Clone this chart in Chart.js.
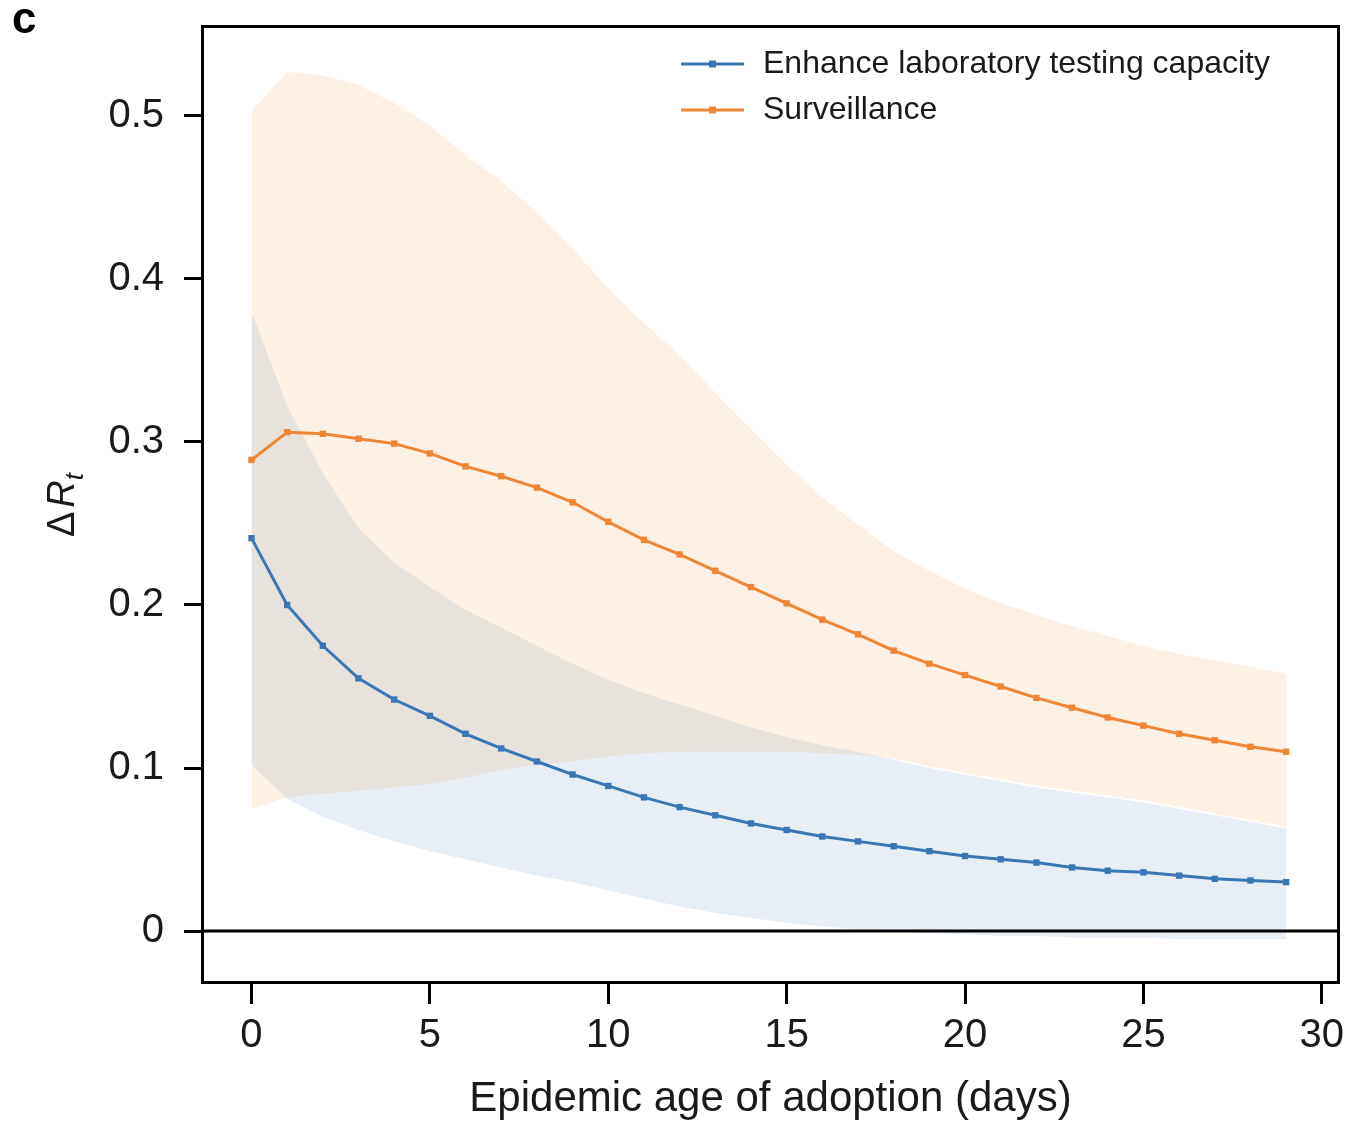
<!DOCTYPE html>
<html>
<head>
<meta charset="utf-8">
<script src="https://cdn.jsdelivr.net/npm/chart.js@4.4.1/dist/chart.umd.min.js"></script>
<style>
  html, body { margin: 0; padding: 0; background: #fff; }
  #wrap { width: 1347px; height: 1127px; position: relative; }
</style>
</head>
<body>
<div id="wrap"><canvas id="deltaChart" width="1347" height="1127"></canvas></div>
<script>
// data (panel c)
const days = [0,1,2,3,4,5,6,7,8,9,10,11,12,13,14,15,16,17,18,19,20,21,22,23,24,25,26,27,28,29];

const labMean = [0.241,0.200,0.175,0.155,0.142,0.132,0.121,0.112,0.104,0.096,0.089,0.082,0.076,0.071,0.066,0.062,0.058,0.055,0.052,0.049,0.046,0.044,0.042,0.039,0.037,0.036,0.034,0.032,0.031,0.030];
const labUpper = [0.380,0.322,0.281,0.247,0.226,0.211,0.197,0.186,0.175,0.164,0.154,0.146,0.139,0.132,0.125,0.119,0.114,0.110,0.105,0.100,0.096,0.092,0.088,0.085,0.082,0.079,0.075,0.071,0.067,0.063];
const labLower = [0.102,0.081,0.070,0.062,0.055,0.049,0.044,0.039,0.034,0.030,0.025,0.020,0.015,0.011,0.008,0.005,0.003,0.001,0.000,-0.001,-0.002,-0.003,-0.003,-0.004,-0.004,-0.004,-0.005,-0.005,-0.005,-0.005];

const survMean = [0.289,0.306,0.305,0.302,0.299,0.293,0.285,0.279,0.272,0.263,0.251,0.240,0.231,0.221,0.211,0.201,0.191,0.182,0.172,0.164,0.157,0.150,0.143,0.137,0.131,0.126,0.121,0.117,0.113,0.110];
const survUpper = [0.503,0.527,0.525,0.519,0.508,0.494,0.476,0.460,0.441,0.419,0.394,0.373,0.353,0.330,0.308,0.286,0.266,0.249,0.233,0.221,0.210,0.201,0.194,0.187,0.181,0.175,0.170,0.166,0.162,0.158];
const survLower = [0.075,0.082,0.084,0.086,0.088,0.090,0.094,0.099,0.102,0.104,0.107,0.109,0.110,0.110,0.110,0.110,0.109,0.108,0.106,0.101,0.097,0.093,0.089,0.086,0.083,0.080,0.076,0.072,0.068,0.064];

const seriesNames = ['Enhance laboratory testing capacity', 'Surveillance'];
const xTicks = [0, 5, 10, 15, 20, 25, 30];
const yTicks = [0, 0.1, 0.2, 0.3, 0.4, 0.5];

const BLUE = '#3a76b4';
const ORANGE = '#ef8636';
const FONT = '"Liberation Sans", Arial, Helvetica, sans-serif';

const pts = arr => days.map((d, i) => ({ x: d, y: arr[i] }));

function lineSet(label, arr, color) {
  return {
    label: label,
    data: pts(arr),
    borderColor: color,
    backgroundColor: color,
    borderWidth: 3,
    pointStyle: 'rect',
    pointRadius: 4.5,
    pointBorderWidth: 0,
    tension: 0,
    fill: false
  };
}

function bandSet(arr, fillColor, fillTo) {
  return {
    label: '',
    data: pts(arr),
    borderWidth: 0,
    borderColor: 'rgba(0,0,0,0)',
    backgroundColor: fillColor,
    pointRadius: 0,
    tension: 0,
    fill: fillTo
  };
}

// scales should not push the plot box around
function noPad(scale) {
  scale.paddingTop = 0;
  scale.paddingBottom = 0;
  scale.paddingLeft = 0;
  scale.paddingRight = 0;
}

// box, zero line, legend, y title, panel letter
const decorations = {
  id: 'decorations',
  afterDatasetsDraw(chart) {
    const ctx = chart.ctx;
    const a = chart.chartArea;
    const y0 = chart.scales.y.getPixelForValue(0);
    ctx.save();
    ctx.strokeStyle = '#000';
    ctx.lineWidth = 3;
    ctx.beginPath();
    ctx.moveTo(a.left, y0);
    ctx.lineTo(a.right, y0);
    ctx.stroke();
    ctx.strokeRect(a.left + 1.5, a.top + 1.5, a.width - 3, a.height - 3);

    // legend
    const items = [[seriesNames[0], BLUE, 64], [seriesNames[1], ORANGE, 110]];
    items.forEach(([txt, col, ly]) => {
      ctx.strokeStyle = col;
      ctx.lineWidth = 3;
      ctx.beginPath();
      ctx.moveTo(681, ly);
      ctx.lineTo(744, ly);
      ctx.stroke();
      ctx.fillStyle = col;
      ctx.fillRect(709, ly - 3.5, 7, 7);
      ctx.fillStyle = '#1a1a1a';
      ctx.font = '32px ' + FONT;
      ctx.textBaseline = 'middle';
      ctx.textAlign = 'left';
      ctx.fillText(txt, 763, ly);
    });

    // y axis title: ΔR_t
    ctx.translate(74, 505);
    ctx.rotate(-Math.PI / 2);
    ctx.fillStyle = '#1a1a1a';
    ctx.textBaseline = 'alphabetic';
    ctx.font = '38px ' + FONT;
    const wD = ctx.measureText('Δ').width;
    ctx.font = 'italic 38px ' + FONT;
    const wR = ctx.measureText('R').width;
    ctx.font = 'italic 26px ' + FONT;
    const wt = ctx.measureText('t').width;
    let x = -(wD + wR + wt + 4) / 2;
    ctx.font = '38px ' + FONT;
    ctx.fillText('Δ', x, 0);
    x += wD + 4;
    ctx.font = 'italic 38px ' + FONT;
    ctx.fillText('R', x, 0);
    x += wR;
    ctx.font = 'italic 26px ' + FONT;
    ctx.fillText('t', x, 9);
    ctx.restore();

    // panel letter
    ctx.save();
    ctx.fillStyle = '#000';
    ctx.font = 'bold 44px ' + FONT;
    ctx.textBaseline = 'alphabetic';
    ctx.fillText('c', 12, 33);
    ctx.restore();
  }
};

const ctx = document.getElementById('deltaChart').getContext('2d');
const chart = new Chart(ctx, {
  type: 'line',
  data: {
    datasets: [
      lineSet(seriesNames[0], labMean, BLUE),
      lineSet(seriesNames[1], survMean, ORANGE),
      bandSet(survUpper, 'rgba(242,142,43,0.12)', '+1'),
      bandSet(survLower, 'rgba(242,142,43,0)', false),
      bandSet(labUpper, 'rgba(58,118,180,0.12)', '+1'),
      bandSet(labLower, 'rgba(58,118,180,0)', false)
    ]
  },
  options: {
    responsive: false,
    animation: false,
    events: [],
    layout: { padding: { top: 25, right: 7, left: 0, bottom: 0 } },
    plugins: {
      legend: { display: false },
      tooltip: { enabled: false }
    },
    scales: {
      x: {
        type: 'linear',
        min: -1.415,
        max: 30.51,
        afterFit(scale) { scale.height = 143; noPad(scale); },
        afterBuildTicks(scale) { scale.ticks = xTicks.map(v => ({ value: v })); },
        border: { display: false },
        grid: { drawOnChartArea: false, drawTicks: true, tickLength: 20, tickWidth: 3, tickColor: '#000' },
        ticks: {
          color: '#1a1a1a',
          font: { family: FONT, size: 40 },
          padding: 8,
          maxRotation: 0,
          callback: v => String(v)
        },
        title: {
          display: true,
          text: 'Epidemic age of adoption (days)',
          color: '#1a1a1a',
          font: { family: FONT, size: 42 },
          padding: { top: 0, bottom: 2 }
        }
      },
      y: {
        type: 'linear',
        min: -0.0325,
        max: 0.5558,
        afterFit(scale) { scale.width = 201; noPad(scale); },
        afterBuildTicks(scale) { scale.ticks = yTicks.map(v => ({ value: v })); },
        border: { display: false },
        grid: { drawOnChartArea: false, drawTicks: true, tickLength: 17, tickWidth: 3, tickColor: '#000' },
        ticks: {
          color: '#1a1a1a',
          font: { family: FONT, size: 40 },
          padding: 20,
          callback: v => String(v)
        }
      }
    }
  },
  plugins: [decorations]
});
</script>
</body>
</html>
